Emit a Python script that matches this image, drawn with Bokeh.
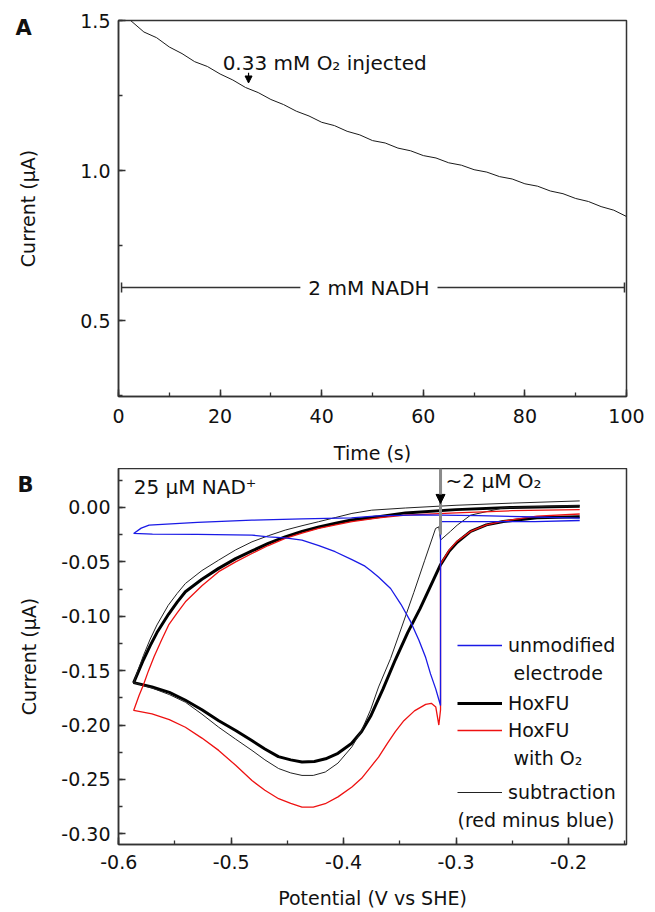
from bokeh.plotting import figure
from bokeh.layouts import column
from bokeh.models import (SingleIntervalTicker, NumeralTickFormatter, Label, Arrow,
                          NormalHead, TeeHead, Legend, LegendItem, Range1d)
from bokeh.embed import file_html
from bokeh.resources import INLINE

FONT = "DejaVu Sans"
FS = "19px"

# ---------------- Panel A data ----------------
time_s = [2.4, 5, 7.5, 10, 12.5, 15, 17.5, 20, 22.5, 25, 27.5, 30, 32.5, 35, 37.5, 40,
          42.5, 45, 47.5, 50, 52.5, 55, 57.5, 60, 62.5, 65, 67.5, 70, 72.5, 75, 77.5,
          80, 82.5, 85, 87.5, 90, 92.5, 95, 97.5, 100]
current_a = [1.500, 1.462, 1.443, 1.412, 1.390, 1.363, 1.347, 1.322, 1.302, 1.277,
             1.260, 1.237, 1.220, 1.198, 1.182, 1.161, 1.150, 1.131, 1.119, 1.100,
             1.092, 1.075, 1.066, 1.050, 1.042, 1.026, 1.018, 1.003, 0.995, 0.980,
             0.972, 0.956, 0.948, 0.932, 0.923, 0.907, 0.897, 0.880, 0.868, 0.847]
O2_T = 25.6
NADH_Y = 0.61
NADH_SEGMENTS = [(0.6, 35.8), (62.8, 99.6)]

# ---------------- Panel B data ----------------
blue_v = [-0.190, -0.230, -0.270, -0.3138, -0.3138, -0.318, -0.3227, -0.327, -0.333,
          -0.3404, -0.349, -0.3582, -0.369, -0.376, -0.381, -0.3926, -0.4075, -0.422,
          -0.437, -0.452, -0.4667, -0.4815, -0.530, -0.570, -0.5867,
          -0.580, -0.573, -0.530, -0.4815, -0.437, -0.393, -0.370, -0.330, -0.280,
          -0.230, -0.190]
blue_i = [-0.012, -0.013, -0.013, -0.013, -0.182, -0.167, -0.153, -0.138, -0.122,
          -0.105, -0.089, -0.0745, -0.064, -0.058, -0.054, -0.048, -0.0407, -0.035,
          -0.030, -0.028, -0.027, -0.0254, -0.0248, -0.0245, -0.0239,
          -0.019, -0.0163, -0.0138, -0.0117, -0.0105, -0.0095, -0.0078, -0.0068, -0.0075,
          -0.0088, -0.0098]

hox_v = [-0.190, -0.250, -0.300, -0.345, -0.369, -0.393, -0.407, -0.422, -0.437, -0.452,
         -0.467, -0.4815, -0.496, -0.5111, -0.526, -0.5407, -0.548, -0.5556, -0.566,
         -0.572, -0.578, -0.583, -0.5867,
         -0.5704, -0.555, -0.541, -0.526, -0.511, -0.496, -0.482, -0.470, -0.458, -0.447,
         -0.437, -0.426, -0.416, -0.405, -0.393, -0.384, -0.376, -0.365, -0.354, -0.343,
         -0.332, -0.323, -0.314, -0.306, -0.299, -0.287, -0.273, -0.258, -0.228, -0.190]
hox_i = [0.001, 0.000, -0.002, -0.005, -0.0086, -0.0116, -0.0145, -0.018, -0.022, -0.027,
         -0.033, -0.040, -0.047, -0.056, -0.066, -0.0775, -0.087, -0.098, -0.115,
         -0.127, -0.140, -0.152, -0.161,
         -0.165, -0.170, -0.177, -0.186, -0.196, -0.205, -0.214, -0.222, -0.229, -0.232,
         -0.234, -0.2335, -0.231, -0.226, -0.217, -0.206, -0.192, -0.167, -0.140, -0.115,
         -0.093, -0.073, -0.053, -0.040, -0.032, -0.022, -0.016, -0.013, -0.0095, -0.0086]

red_v = [-0.190, -0.250, -0.300, -0.345, -0.369, -0.3926, -0.407, -0.4222, -0.437,
         -0.4519, -0.467, -0.4815, -0.496, -0.5111, -0.526, -0.5407, -0.548, -0.5556,
         -0.562, -0.5685, -0.5735, -0.578, -0.582, -0.5867,
         -0.5704, -0.555, -0.5407, -0.526, -0.5111, -0.496, -0.4815, -0.470, -0.4578,
         -0.447, -0.437, -0.427, -0.4163, -0.405, -0.3926, -0.384, -0.376, -0.3689,
         -0.3612, -0.354, -0.3464, -0.337, -0.327, -0.322, -0.318, -0.3153, -0.3138,
         -0.3138, -0.306, -0.299, -0.287, -0.273, -0.258, -0.228, -0.190]
red_i = [-0.002, -0.003, -0.005, -0.007, -0.0095, -0.0131, -0.016, -0.0193, -0.0235,
         -0.0285, -0.035, -0.0423, -0.050, -0.059, -0.072, -0.0867, -0.097, -0.108,
         -0.122, -0.137, -0.150, -0.163, -0.173, -0.1866,
         -0.1897, -0.195, -0.202, -0.212, -0.2233, -0.237, -0.251, -0.260, -0.2677,
         -0.272, -0.2754, -0.2755, -0.2723, -0.266, -0.257, -0.249, -0.2386, -0.2295,
         -0.217, -0.206, -0.196, -0.187, -0.181, -0.180, -0.1835, -0.200, -0.186,
         -0.052, -0.039, -0.031, -0.022, -0.016, -0.0125, -0.008, -0.006]

sub_v = [-0.190, -0.250, -0.300, -0.345, -0.375, -0.3926, -0.407, -0.4222, -0.437,
         -0.4519, -0.467, -0.4815, -0.496, -0.5111, -0.526, -0.5407, -0.548, -0.556,
         -0.566, -0.572, -0.578, -0.583, -0.5867,
         -0.5704, -0.555, -0.5407, -0.526, -0.5111, -0.496, -0.4815, -0.470, -0.4578,
         -0.447, -0.437, -0.427, -0.4163, -0.405, -0.3926, -0.384, -0.376, -0.3689,
         -0.3582, -0.348, -0.3375, -0.328, -0.3182, -0.3153, -0.3138, -0.305, -0.299,
         -0.2871, -0.2575, -0.220, -0.190]
sub_i = [0.006, 0.004, 0.002, -0.0005, -0.0025, -0.0055, -0.0092, -0.0131, -0.0168,
         -0.0208, -0.026, -0.0316, -0.039, -0.0484, -0.058, -0.0699, -0.079, -0.090,
         -0.108, -0.121, -0.136, -0.150, -0.161,
         -0.166, -0.172, -0.179, -0.190, -0.202, -0.213, -0.2233, -0.232, -0.240,
         -0.244, -0.2463, -0.2463, -0.2432, -0.235, -0.220, -0.205, -0.186, -0.165,
         -0.1388, -0.109, -0.078, -0.049, -0.0193, -0.0178, -0.030, -0.022, -0.0163,
         -0.0071, -0.0003, 0.001, 0.0016]

O2_V = -0.3138

legend_labels = ["unmodified", "HoxFU", "HoxFU", "subtraction"]
legend_extra = ["electrode", "with O\u2082", "(red minus blue)"]


def style_axes(p, xint, yint, xfmt, yfmt, ylab, xlab, ylab_standoff, xtick_so, xlab_so):
    p.xaxis.ticker = SingleIntervalTicker(interval=xint, num_minor_ticks=2)
    p.yaxis.ticker = SingleIntervalTicker(interval=yint, num_minor_ticks=2)
    p.xaxis.formatter = NumeralTickFormatter(format=xfmt)
    p.yaxis.formatter = NumeralTickFormatter(format=yfmt)
    for ax in (p.xaxis[0], p.yaxis[0]):
        ax.major_tick_in = 7
        ax.major_tick_out = 0
        ax.minor_tick_in = 4
        ax.minor_tick_out = 0
        ax.axis_line_color = "#333333"
        ax.axis_line_width = 1.5
        ax.major_tick_line_color = "#333333"
        ax.major_tick_line_width = 1.5
        ax.minor_tick_line_color = "#333333"
        ax.minor_tick_line_width = 1.3
        ax.major_label_text_font = FONT
        ax.major_label_text_font_size = FS
        ax.major_label_text_color = "#111111"
        ax.axis_label_text_font = FONT
        ax.axis_label_text_font_size = FS
        ax.axis_label_text_font_style = "normal"
        ax.axis_label_text_color = "#111111"
    p.xaxis.major_label_standoff = xtick_so
    p.yaxis.major_label_standoff = 8
    p.xaxis.axis_label = xlab
    p.yaxis.axis_label = ylab
    p.xaxis.axis_label_standoff = xlab_so
    p.yaxis.axis_label_standoff = ylab_standoff
    p.xgrid.visible = False
    p.ygrid.visible = False
    p.outline_line_color = "#333333"
    p.outline_line_width = 1.5
    p.background_fill_color = "white"
    p.border_fill_color = "white"


def panel_letter(p, letter, offset, standoff):
    t = p.title
    t.text = letter
    t.align = "left"
    t.offset = offset
    t.standoff = standoff
    t.text_font = FONT
    t.text_font_size = "21px"
    t.text_font_style = "bold"
    t.text_color = "#111111"


# ---------------- Panel A ----------------
pA = figure(width=648, height=468, x_range=Range1d(-0.0005, 100.0005),
            y_range=Range1d(0.247, 1.5003), output_backend="svg", toolbar_location=None,
            min_border_left=118, min_border_right=22, min_border_top=20, min_border_bottom=72)
style_axes(pA, 20, 0.5, "0", "0.0", "Current (\u03bcA)", "Time (s)", 38, 12, 16)
pA.line(time_s, current_a, line_color="#1a1a1a", line_width=1)

pA.add_layout(Arrow(end=NormalHead(size=7, fill_color="black", line_color="black"),
                    x_start=O2_T, y_start=1.326, x_end=O2_T, y_end=1.292,
                    line_color="black", line_width=1.2))
pA.add_layout(Label(x=20.5, y=1.36, text="0.33 mM O\u2082 injected", text_font=FONT,
                    text_font_size="20px", text_color="#111111", text_baseline="alphabetic"))
for xs, xe in NADH_SEGMENTS:
    pA.add_layout(Arrow(start=TeeHead(size=10, line_color="#333333", line_width=1.5)
                        if xs < 10 else None,
                        end=TeeHead(size=10, line_color="#333333", line_width=1.5)
                        if xe > 90 else None,
                        x_start=xs, y_start=NADH_Y, x_end=xe, y_end=NADH_Y,
                        line_color="#333333", line_width=1.5))
pA.add_layout(Label(x=49.3, y=NADH_Y, text="2 mM NADH", text_font=FONT, text_font_size="20px",
                    text_color="#111111", text_align="center", text_baseline="middle"))
panel_letter(pA, "A", -103, -38)

# ---------------- Panel B ----------------
pB = figure(width=648, height=444, x_range=Range1d(-0.6002, -0.1484),
            y_range=Range1d(-0.3098, 0.0358), output_backend="svg", toolbar_location=None,
            min_border_left=118, min_border_right=22, min_border_top=0, min_border_bottom=68)
style_axes(pB, 0.1, 0.05, "0.0", "0.00", "Current (\u03bcA)", "Potential (V vs SHE)", 18,
           10, 15)

r_hox = pB.line(hox_v, hox_i, line_color="black", line_width=3)
r_sub = pB.line(sub_v, sub_i, line_color="#222222", line_width=1)
r_red = pB.line(red_v, red_i, line_color="#ee1111", line_width=1.3)
r_blue = pB.line(blue_v, blue_i, line_color="#1a1ae6", line_width=1.3)

pB.add_layout(Arrow(end=None, x_start=O2_V, y_start=0.0358, x_end=O2_V, y_end=-0.025,
                    line_color="#8a8a8a", line_width=3))
pB.add_layout(Arrow(end=NormalHead(size=9, fill_color="black", line_color="black"),
                    x_start=O2_V, y_start=0.02, x_end=O2_V, y_end=0.0037,
                    line_color="#8a8a8a", line_width=3))
pB.add_layout(Label(x=-0.3093, y=0.0135, text="~2 \u03bcM O\u2082", text_font=FONT,
                    text_font_size="20px", text_color="#111111"))
pB.add_layout(Label(x=-0.5867, y=0.0080, text="25 \u03bcM NAD\u207a", text_font=FONT,
                    text_font_size="20px", text_color="#111111"))
panel_letter(pB, "B", -101, -56)

legend_renderers = [r_blue, r_hox, r_red, r_sub]
legend_offsets = [188, 130, 103, 41]
for lab, rend, yoff in zip(legend_labels, legend_renderers, legend_offsets):
    lg = Legend(items=[LegendItem(label=lab, renderers=[rend])], location=(339, yoff),
                glyph_width=45, glyph_height=20, label_height=20, label_standoff=6,
                padding=0, margin=0, spacing=0, border_line_alpha=0,
                background_fill_alpha=0, label_text_font=FONT, label_text_font_size=FS,
                label_text_color="#111111")
    pB.add_layout(lg)

for txt, x, y in zip(legend_extra, [-0.2489, -0.2489, -0.2987], [-0.1526, -0.2299, -0.2877]):
    pB.add_layout(Label(x=x, y=y, text=txt, text_font=FONT, text_font_size=FS,
                        text_color="#111111", text_baseline="middle"))

layout = column(pA, pB, spacing=0)
open("out.html", "w").write(file_html(layout, INLINE))
